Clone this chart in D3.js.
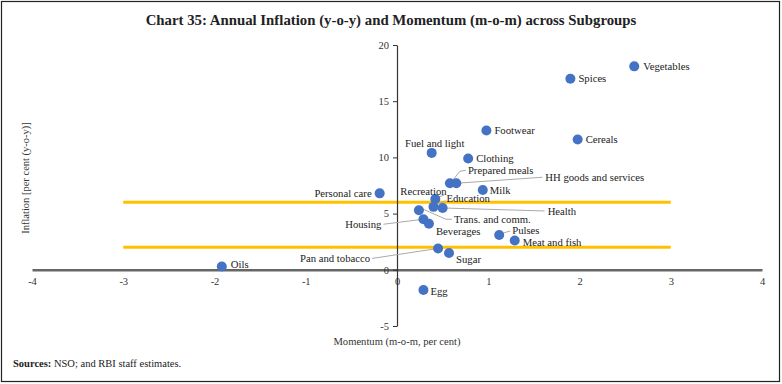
<!DOCTYPE html>
<html>
<head>
<meta charset="utf-8">
<script src="https://cdn.jsdelivr.net/npm/d3@7"></script>
<style>
  body { margin: 0; background: #fff; }
  svg { font-family: "Liberation Serif", "DejaVu Serif", serif; }
</style>
</head>
<body>
<svg id="chart" width="782" height="384"></svg>
<script>
const subgroups = ["Vegetables", "Spices", "Footwear", "Cereals", "Fuel and light", "Clothing",
  "Prepared meals", "HH goods and services", "Milk", "Personal care", "Recreation", "Education",
  "Health", "Trans. and comm.", "Housing", "Beverages", "Pulses", "Meat and fish",
  "Pan and tobacco", "Sugar", "Oils", "Egg"];
const momentum = [2.60, 1.90, 0.98, 1.98, 0.38, 0.78, 0.58, 0.65, 0.94, -0.19, 0.42, 0.40,
  0.50, 0.24, 0.29, 0.35, 1.12, 1.29, 0.45, 0.57, -1.92, 0.29];
const inflation = [18.1, 17.0, 12.4, 11.6, 10.4, 9.9, 7.7, 7.7, 7.1, 6.8, 6.3, 5.6,
  5.5, 5.3, 4.5, 4.1, 3.1, 2.6, 1.9, 1.5, 0.3, -1.8];
const xTicks = [-4, -3, -2, -1, 0, 1, 2, 3, 4];
const yTicks = [-5, 0, 5, 10, 15, 20];
const bandLines = [6, 2];   // reference levels, drawn from -3 to 3
const bandSpan = [-3, 3];

// label placement: [dx, dy, anchor, leader bend, direct leader]
const labelPos = {
  "Vegetables": [9, 0, "start"],
  "Spices": [8, 0, "start"],
  "Footwear": [8, 0, "start"],
  "Cereals": [8, 0, "start"],
  "Fuel and light": [3, -10, "middle"],
  "Clothing": [8, 0, "start"],
  "Prepared meals": [18, -13, "start", [10, -12]],
  "HH goods and services": [89, -6, "start", null, true],
  "Milk": [7, 0, "start"],
  "Personal care": [-8, 0, "end"],
  "Recreation": [-35, -8, "start", null, [9, -4]],
  "Education": [13, -9, "start", null, [12, -6]],
  "Health": [105, 3, "start", null, true],
  "Trans. and comm.": [35, 9, "start", [27, 9]],
  "Housing": [-42, 5, "end", null, true],
  "Beverages": [7, 8, "start"],
  "Pulses": [13, -5, "start", null, [11, -4]],
  "Meat and fish": [8, 1.5, "start"],
  "Pan and tobacco": [-68, 10, "end", null, true],
  "Sugar": [7, 6, "start"],
  "Oils": [9, -2, "start"],
  "Egg": [7, 1.5, "start"]
};

const svg = d3.select("#chart");
const W = 782, H = 384;
const serif = "'Liberation Serif', 'DejaVu Serif', serif";

svg.append("rect").attr("x", 1.5).attr("y", 1.5).attr("width", W - 4).attr("height", H - 4)
  .attr("fill", "none").attr("stroke", "#222").attr("stroke-width", 1.2);

const x = d3.scaleLinear().domain([-4, 4]).range([32, 762]);
const y = d3.scaleLinear().domain([-5, 20]).range([326, 45]);

svg.append("text").attr("x", 391).attr("y", 25).attr("text-anchor", "middle")
  .attr("font-size", 14.8).attr("font-weight", "bold").attr("fill", "#222")
  .text("Chart 35: Annual Inflation (y-o-y) and Momentum (m-o-m) across Subgroups");

// orange reference lines
svg.append("g").selectAll("line").data(bandLines).join("line")
  .attr("x1", x(bandSpan[0])).attr("x2", x(bandSpan[1]))
  .attr("y1", d => y(d)).attr("y2", d => y(d))
  .attr("stroke", "#FFC000").attr("stroke-width", 3);

// x axis through zero
const gx = svg.append("g").attr("transform", `translate(0,${y(0)})`)
  .call(d3.axisBottom(x).tickValues(xTicks).tickSize(0).tickPadding(8).tickFormat(d => String(d)));
gx.attr("font-family", serif).attr("font-size", 10.5);
gx.select(".domain").attr("stroke", "#666").attr("stroke-width", 2.5);
gx.selectAll("text").attr("fill", "#333");

// y axis through zero
const gy = svg.append("g").attr("transform", `translate(${x(0)},0)`)
  .call(d3.axisLeft(y).tickValues(yTicks).tickSize(4).tickSizeOuter(0).tickPadding(4).tickFormat(d => String(d)));
gy.attr("font-family", serif).attr("font-size", 10.5);
gy.select(".domain").attr("stroke", "#333").attr("stroke-width", 1.2);
gy.selectAll(".tick line").attr("stroke", "#333");
gy.selectAll("text").attr("fill", "#333");

const pts = subgroups.map((name, i) => ({ name, mx: momentum[i], inf: inflation[i] }));

// leader lines
const leaders = svg.append("g").attr("fill", "none").attr("stroke", "#aaa").attr("stroke-width", 1);
pts.forEach(p => {
  const [dx, dy, anchor, bend, direct] = labelPos[p.name];
  const px = x(p.mx), py = y(p.inf);
  if (bend) {
    leaders.append("polyline")
      .attr("points", [[px + 2, py - 2], [px + bend[0], py + bend[1]], [px + dx - 2, py + dy]].join(" "));
  } else if (direct === true) {
    const ex = anchor === "end" ? px + dx + 2 : px + dx - 3;
    leaders.append("line").attr("x1", px).attr("y1", py).attr("x2", ex).attr("y2", py + dy);
  } else if (direct) {
    leaders.append("line").attr("x1", px + 1).attr("y1", py - 1)
      .attr("x2", px + direct[0]).attr("y2", py + direct[1]);
  }
});

svg.append("g").selectAll("circle").data(pts).join("circle")
  .attr("cx", d => x(d.mx)).attr("cy", d => y(d.inf)).attr("r", 5)
  .attr("fill", "#4472C4");

svg.append("g").selectAll("text").data(pts).join("text")
  .attr("x", d => x(d.mx) + labelPos[d.name][0])
  .attr("y", d => y(d.inf) + labelPos[d.name][1])
  .attr("dy", "0.35em")
  .attr("text-anchor", d => labelPos[d.name][2])
  .attr("font-size", 10.7).attr("fill", "#222")
  .text(d => d.name);

svg.append("text").attr("x", x(0)).attr("y", 345).attr("text-anchor", "middle")
  .attr("font-size", 10.6).attr("fill", "#333").text("Momentum (m-o-m, per cent)");

svg.append("text").attr("transform", `translate(29,178) rotate(-90)`)
  .attr("text-anchor", "middle").attr("font-size", 10.5).attr("fill", "#333")
  .text("Inflation [per cent (y-o-y)]");

const src = svg.append("text").attr("x", 13).attr("y", 367).attr("font-size", 10.5).attr("fill", "#222");
src.append("tspan").attr("font-weight", "bold").text("Sources: ");
src.append("tspan").text("NSO; and RBI staff estimates.");
</script>
</body>
</html>
